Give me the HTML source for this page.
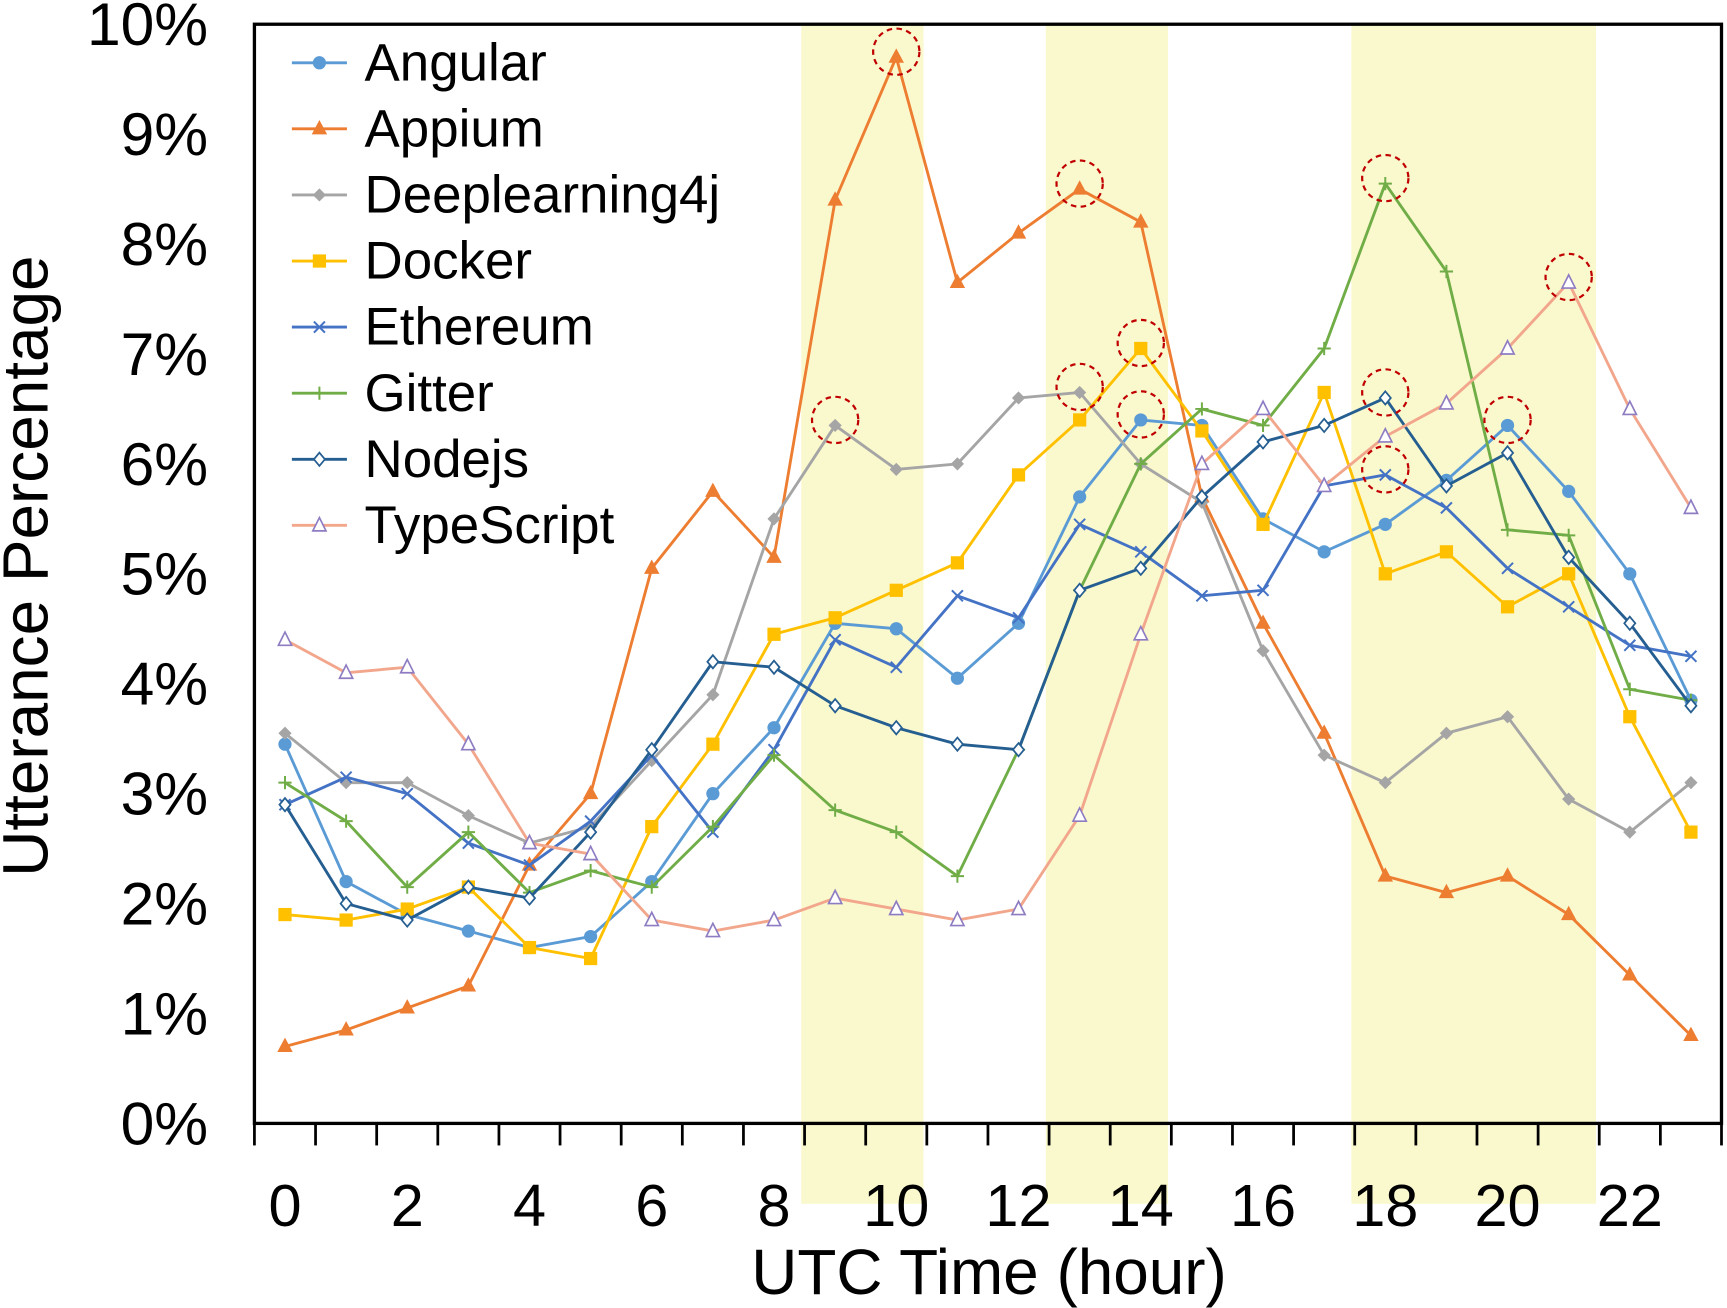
<!DOCTYPE html>
<html><head><meta charset="utf-8"><style>
html,body{margin:0;padding:0;background:#fff}
svg{display:block;font-family:"Liberation Sans",Arial,sans-serif}
</style></head><body>
<svg id="chart" width="1727" height="1308" viewBox="0 0 1568 1187.6" preserveAspectRatio="none" xmlns="http://www.w3.org/2000/svg"></svg>
<script>
const hours = [0,1,2,3,4,5,6,7,8,9,10,11,12,13,14,15,16,17,18,19,20,21,22,23];
const seriesNames = ["Angular","Appium","Deeplearning4j","Docker","Ethereum","Gitter","Nodejs","TypeScript"];
const angular = [3.45,2.2,1.9,1.75,1.6,1.7,2.2,3.0,3.6,4.55,4.5,4.05,4.55,5.7,6.4,6.35,5.5,5.2,5.45,5.85,6.35,5.75,5.0,3.85];
const appium = [0.7,0.85,1.05,1.25,2.35,3.0,5.05,5.75,5.15,8.4,9.7,7.65,8.1,8.5,8.2,5.7,4.55,3.55,2.25,2.1,2.25,1.9,1.35,0.8];
const deeplearning4j = [3.55,3.1,3.1,2.8,2.55,2.7,3.3,3.9,5.5,6.35,5.95,6.0,6.6,6.65,6.0,5.65,4.3,3.35,3.1,3.55,3.7,2.95,2.65,3.1];
const docker = [1.9,1.85,1.95,2.15,1.6,1.5,2.7,3.45,4.45,4.6,4.85,5.1,5.9,6.4,7.05,6.3,5.45,6.65,5.0,5.2,4.7,5.0,3.7,2.65];
const ethereum = [2.9,3.15,3.0,2.55,2.35,2.75,3.35,2.65,3.4,4.4,4.15,4.8,4.6,5.45,5.2,4.8,4.85,5.8,5.9,5.6,5.05,4.7,4.35,4.25];
const gitter = [3.1,2.75,2.15,2.65,2.1,2.3,2.15,2.7,3.35,2.85,2.65,2.25,3.4,4.85,6.0,6.5,6.35,7.05,8.55,7.75,5.4,5.35,3.95,3.85];
const nodejs = [2.9,2.0,1.85,2.15,2.05,2.65,3.4,4.2,4.15,3.8,3.6,3.45,3.4,4.85,5.05,5.7,6.2,6.35,6.6,5.8,6.1,5.15,4.55,3.8];
const typescript = [4.4,4.1,4.15,3.45,2.55,2.45,1.85,1.75,1.85,2.05,1.95,1.85,1.95,2.8,4.45,6.0,6.5,5.8,6.25,6.55,7.05,7.65,6.5,5.6];
const yTicks = [0,1,2,3,4,5,6,7,8,9,10];
const xTickLabels = [0,2,4,6,8,10,12,14,16,18,20,22];
const bands = [[8.5,10.5],[12.5,14.5],[17.5,21.5]];
// highlighted peaks: [series index, hour]
const peaks = [[1,10],[1,13],[2,9],[2,13],[3,14],[0,14],[5,18],[6,18],[4,18],[7,21],[0,20]];

const allData=[angular,appium,deeplearning4j,docker,ethereum,gitter,nodejs,typescript];
const colors=["#5b9bd5","#ed7d31","#a5a5a5","#ffc000","#4472c4","#70ad47","#255e91","#f2a68c"];
const markers=["circle","tri","diamond","square","x","plus","odiamond","otri"];
const L=231,R=1563,T=22,B=1020;
const xs=h=>L+(h+0.5)*(R-L)/24;
const xb=h=>L+h*(R-L)/24;
const ys=v=>B-v*(B-T)/10;
const svg=document.getElementById('chart');
const NS="http://www.w3.org/2000/svg";
function mk(tag,attrs,parent){const e=document.createElementNS(NS,tag);for(const k in attrs)e.setAttribute(k,attrs[k]);(parent||svg).appendChild(e);return e;}

bands.forEach((b,i)=>{const r=mk('rect',{x:xs(b[0])-3,y:T,width:xs(b[1])-xs(b[0]),height:1093-T,fill:'#faf8cd'});

});

function marker(type,x,y,c,g){
  if(type==='circle')mk('circle',{cx:x,cy:y,r:6,fill:c},g);
  else if(type==='tri')mk('polygon',{points:`${x},${y-8} ${x-7},${y+5} ${x+7},${y+5}`,fill:c},g);
  else if(type==='diamond')mk('polygon',{points:`${x},${y-6} ${x+6},${y} ${x},${y+6} ${x-6},${y}`,fill:c},g);
  else if(type==='square')mk('rect',{x:x-6,y:y-6,width:12,height:12,fill:c},g);
  else if(type==='x'){mk('path',{d:`M${x-5},${y-5}L${x+5},${y+5}M${x-5},${y+5}L${x+5},${y-5}`,stroke:c,'stroke-width':1.8},g);}
  else if(type==='plus'){mk('path',{d:`M${x-6},${y}L${x+6},${y}M${x},${y-6}L${x},${y+6}`,stroke:c,'stroke-width':1.8},g);}
  else if(type==='odiamond')mk('polygon',{points:`${x},${y-6} ${x+5},${y} ${x},${y+6} ${x-5},${y}`,fill:'#fff',stroke:c,'stroke-width':1.6},g);
  else if(type==='otri')mk('polygon',{points:`${x},${y-7} ${x-6},${y+5} ${x+6},${y+5}`,fill:'#fff',stroke:'#8e7cc3','stroke-width':1.5},g);
}

allData.forEach((d,si)=>{
  const g=mk('g',{});
  
  
  mk('polyline',{points:d.map((v,i)=>xs(hours[i])+','+ys(v)).join(' '),fill:'none',stroke:colors[si],'stroke-width':2.6},g);
  d.forEach((v,i)=>marker(markers[si],xs(hours[i]),ys(v),markers[si]==='odiamond'?'#255e91':colors[si],g));
});

peaks.forEach(p=>{const c=mk('circle',{cx:xs(p[1]),cy:ys(allData[p[0]][p[1]])-5,r:21,fill:'none',stroke:'#c00000','stroke-width':2,'stroke-dasharray':'5 4'});

});

const fr=mk('rect',{x:L,y:T,width:R-L,height:B-T,fill:'none',stroke:'#000','stroke-width':3});


for(let k=0;k<=24;k++){mk('line',{x1:xb(k),y1:B,x2:xb(k),y2:B+20,stroke:'#000','stroke-width':2.5});}

yTicks.forEach(v=>{const t=mk('text',{x:189,y:ys(v)+19,'text-anchor':'end','font-size':55});t.textContent=v+'%';

});
xTickLabels.forEach(v=>{const t=mk('text',{x:xs(v),y:1113,'text-anchor':'middle','font-size':54});t.textContent=v;

});
const xt=mk('text',{x:898,y:1175,'text-anchor':'middle','font-size':58});xt.textContent='UTC Time (hour)';


const yt=mk('text',{x:0,y:0,'text-anchor':'middle','font-size':58,transform:'translate(43,514) rotate(-90)'});yt.textContent='Utterance Percentage';



seriesNames.forEach((n,i)=>{
  const g=mk('g',{});
  
  
  const y=57+i*60;
  mk('line',{x1:265,y1:y,x2:315,y2:y,stroke:colors[i],'stroke-width':2.6},g);
  marker(markers[i],290,y,markers[i]==='odiamond'?'#255e91':colors[i],g);
  const t=mk('text',{x:331,y:y+16,'font-size':48},g);t.textContent=n;
});
</script>
</body></html>
